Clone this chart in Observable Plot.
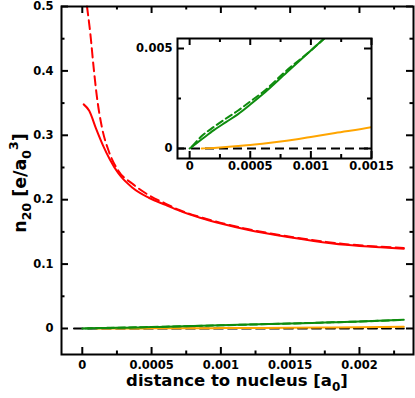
<!DOCTYPE html>
<html>
<head>
<meta charset="utf-8">
<script src="https://cdn.jsdelivr.net/npm/d3@7"></script>
<script src="https://cdn.jsdelivr.net/npm/@observablehq/plot@0.6"></script>
<style>
  html, body { margin: 0; padding: 0; background: #fff; }
  #chart { width: 415px; height: 398px; }
</style>
</head>
<body>
<div id="chart"></div>
<script>
// ---- data ----
const redSolidX = [0.00001, 0.00005, 0.0001, 0.00015, 0.0002, 0.00026, 0.00036, 0.00048, 0.0006, 0.0007, 0.00085, 0.001, 0.0012, 0.00143, 0.00167, 0.0019, 0.00215, 0.00232];
const redSolidY = [0.348, 0.338, 0.310, 0.284, 0.262, 0.241, 0.219, 0.203, 0.192, 0.183, 0.172, 0.163, 0.153, 0.144, 0.136, 0.130, 0.126, 0.124];

const redDashX = [0.000034, 0.000058, 0.000082, 0.000106, 0.000142, 0.00019, 0.00026, 0.00036, 0.00048, 0.0006, 0.0007, 0.00085, 0.001, 0.0012, 0.00143, 0.00167, 0.0019, 0.00215, 0.00232];
const redDashY = [0.5, 0.458, 0.405, 0.359, 0.312, 0.276, 0.245, 0.225, 0.207, 0.194, 0.184, 0.173, 0.164, 0.154, 0.145, 0.137, 0.131, 0.127, 0.125];

const greenSolidX = [0, 0.0001, 0.0002, 0.0003, 0.0004, 0.0005, 0.0006, 0.0008, 0.001, 0.0012, 0.0015, 0.0018, 0.002, 0.00232];
const greenSolidY = [0, 0.00046, 0.00092, 0.00132, 0.00172, 0.0022, 0.0027, 0.0038, 0.0049, 0.006, 0.0077, 0.0095, 0.0108, 0.0134];

const greenDashX = [0.00002, 0.0001, 0.0002, 0.0003, 0.0004, 0.0005, 0.0006, 0.0008, 0.001, 0.0012, 0.0015, 0.0018, 0.002, 0.00232];
const greenDashY = [0.0001, 0.00062, 0.00108, 0.0015, 0.0019, 0.00235, 0.0028, 0.0039, 0.0049, 0.006, 0.0077, 0.0095, 0.0108, 0.0134];

const orangeX = [0.0001, 0.0002, 0.0003, 0.0004, 0.0005, 0.0006, 0.0007, 0.0008, 0.0009, 0.001, 0.0012, 0.0015, 0.0018, 0.002, 0.00232];
const orangeY = [0, 0.00003, 0.00007, 0.00012, 0.00018, 0.00024, 0.00031, 0.00039, 0.00048, 0.00058, 0.00078, 0.00107, 0.0015, 0.0019, 0.0028];

const zeroX = [-0.00006, 0.00232];
const zeroY = [0, 0];

// main axes ticks
const xMajor = [0, 0.0005, 0.001, 0.0015, 0.002];
const xMajorLabels = ["0", "0.0005", "0.001", "0.0015", "0.002"];
const xMinor = [0.00025, 0.00075, 0.00125, 0.00175, 0.00225];
const yMajor = [0, 0.1, 0.2, 0.3, 0.4, 0.5];
const yMajorLabels = ["0", "0.1", "0.2", "0.3", "0.4", "0.5"];
const yMinor = [0.05, 0.15, 0.25, 0.35, 0.45];

// inset ticks
const ixMajor = [0, 0.0005, 0.001, 0.0015];
const ixMajorLabels = ["0", "0.0005", "0.001", "0.0015"];
const ixMinor = [0.00025, 0.00075, 0.00125];
const iyMajor = [0, 0.005];
const iyMajorLabels = ["0", "0.005"];
const iyMinor = [0.0025];

const xTitle = "distance to nucleus [a";
const xTitleSub = "0";

// ---- helpers ----
const toRows = (xs, ys) => xs.map((x, i) => ({x, y: ys[i]}));
const RED = "#ff0000", GREEN = "#0e8c0e", ORANGE = "#ffa500";

// frame, inward ticks on four sides and tick labels, all as Plot marks
function frameAxes(L, xMaj, xLab, xMin, yMaj, yLab, yMin, major, minor, xPad, yPad) {
  const pw = L.width - L.marginLeft - L.marginRight;
  const ph = L.height - L.marginTop - L.marginBottom;
  const t = {stroke: "#000", strokeWidth: 2};
  return [
    Plot.tickX(xMaj, {...t, x: d => d, insetTop: ph - major}),
    Plot.tickX(xMin, {...t, x: d => d, insetTop: ph - minor}),
    Plot.tickX(xMaj, {...t, x: d => d, insetBottom: ph - major}),
    Plot.tickX(xMin, {...t, x: d => d, insetBottom: ph - minor}),
    Plot.tickY(yMaj, {...t, y: d => d, insetRight: pw - major}),
    Plot.tickY(yMin, {...t, y: d => d, insetRight: pw - minor}),
    Plot.tickY(yMaj, {...t, y: d => d, insetLeft: pw - major}),
    Plot.tickY(yMin, {...t, y: d => d, insetLeft: pw - minor}),
    Plot.text(xMaj, {x: d => d, frameAnchor: "bottom", lineAnchor: "top", dy: xPad, text: (d, i) => xLab[i], fill: "#000"}),
    Plot.text(yMaj, {y: d => d, frameAnchor: "left", textAnchor: "end", dx: -yPad, text: (d, i) => yLab[i], fill: "#000"}),
    Plot.frame({stroke: "#000", strokeWidth: 2})
  ];
}

const fontStyle = {fontFamily: "'DejaVu Sans', sans-serif", fontWeight: "bold", fontSize: "11.5px", color: "black", overflow: "visible"};

// ---- main plot ----
const M = {width: 415, height: 398, marginLeft: 61, marginRight: 2, marginTop: 6, marginBottom: 44};
const main = Plot.plot({
  ...M,
  style: fontStyle,
  x: {domain: [-0.00015, 0.00239], axis: null},
  y: {domain: [-0.0404, 0.5], axis: null},
  marks: [
    Plot.line(toRows(zeroX, zeroY), {x: "x", y: "y", stroke: "black", strokeWidth: 2, strokeDasharray: "9,5"}),
    Plot.line(toRows(orangeX, orangeY), {x: "x", y: "y", stroke: ORANGE, strokeWidth: 2, curve: "monotone-x"}),
    Plot.line(toRows(greenDashX, greenDashY), {x: "x", y: "y", stroke: GREEN, strokeWidth: 2, strokeDasharray: "7,4", curve: "monotone-x"}),
    Plot.line(toRows(greenSolidX, greenSolidY), {x: "x", y: "y", stroke: GREEN, strokeWidth: 2, curve: "monotone-x"}),
    Plot.line(toRows(redDashX, redDashY), {x: "x", y: "y", stroke: RED, strokeWidth: 2, strokeDasharray: "9,5", curve: "monotone-x"}),
    Plot.line(toRows(redSolidX, redSolidY), {x: "x", y: "y", stroke: RED, strokeWidth: 2, curve: "monotone-x"}),
    ...frameAxes(M, xMajor, xMajorLabels, xMinor, yMajor, yMajorLabels, yMinor, 7, 3.5, 6, 8)
  ]
});

// ---- inset plot ----
const I = {width: 265, height: 148, marginLeft: 47, marginRight: 24, marginTop: 8, marginBottom: 20};
const inset = Plot.plot({
  ...I,
  style: {...fontStyle, width: I.width + "px", height: I.height + "px", maxWidth: "none"},
  x: {domain: [-0.0001, 0.0015], axis: null},
  y: {domain: [-0.0005, 0.0055], axis: null},
  marks: [
    Plot.frame({fill: "white"}),
    Plot.ruleY([0], {stroke: "black", strokeWidth: 2, strokeDasharray: "9,5"}),
    Plot.line(toRows(orangeX, orangeY), {x: "x", y: "y", stroke: ORANGE, strokeWidth: 2, curve: "monotone-x", clip: true}),
    Plot.line(toRows(greenDashX, greenDashY), {x: "x", y: "y", stroke: GREEN, strokeWidth: 2, strokeDasharray: "7,4", curve: "monotone-x", clip: true}),
    Plot.line(toRows(greenSolidX, greenSolidY), {x: "x", y: "y", stroke: GREEN, strokeWidth: 2, curve: "monotone-x", clip: true}),
    ...frameAxes(I, ixMajor, ixMajorLabels, ixMinor, iyMajor, iyMajorLabels, iyMinor, 7, 4, 3, 5)
  ]
});

inset.setAttribute("x", 130);
inset.setAttribute("y", 30);
inset.setAttribute("width", I.width);
inset.setAttribute("height", I.height);
main.appendChild(inset);

// ---- axis titles with sub/superscripts ----
const svg = d3.select(main);
const xtl = svg.append("text")
  .attr("x", 237).attr("y", 386)
  .attr("text-anchor", "middle")
  .attr("font-family", "'DejaVu Sans', sans-serif")
  .attr("font-weight", "bold")
  .attr("font-size", 16.5)
  .attr("fill", "black");
xtl.append("tspan").text(xTitle);
xtl.append("tspan").attr("dy", 5).attr("font-size", 12).text(xTitleSub);
xtl.append("tspan").attr("dy", -5).text("]");

const ytl = svg.append("text")
  .attr("transform", "translate(26,183) rotate(-90)")
  .attr("text-anchor", "middle")
  .attr("font-family", "'DejaVu Sans', sans-serif")
  .attr("font-weight", "bold")
  .attr("font-size", 17.5)
  .attr("fill", "black");
ytl.append("tspan").text("n");
ytl.append("tspan").attr("dy", 5).attr("font-size", 12.5).text("20");
ytl.append("tspan").attr("dy", -5).text(" [e/a");
ytl.append("tspan").attr("dy", 5).attr("font-size", 12.5).text("0");
ytl.append("tspan").attr("dy", -13).attr("font-size", 12.5).text("3");
ytl.append("tspan").attr("dy", 8).text("]");

document.getElementById("chart").appendChild(main);
</script>
</body>
</html>
